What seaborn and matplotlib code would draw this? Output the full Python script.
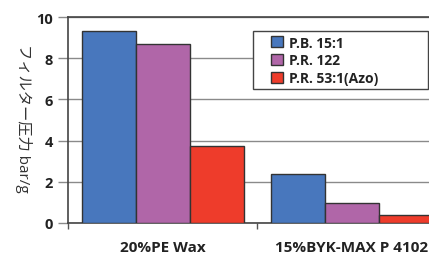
import pandas as pd
import seaborn as sns
import matplotlib.pyplot as plt
from matplotlib.patches import Rectangle

categories = ["20%PE Wax", "15%BYK-MAX P 4102"]
series = ["P.B. 15:1", "P.R. 122", "P.R. 53:1(Azo)"]
pb15 = [9.3, 2.37]
pr122 = [8.7, 0.97]
pr53 = [3.75, 0.38]
colors = ["#4877bd", "#b066a8", "#ee3c2b"]

data = pd.DataFrame({
    "category": categories * 3,
    "pigment": [s for s in series for _ in categories],
    "value": pb15 + pr122 + pr53,
})

sns.set_theme(style="ticks")
plt.rcParams['font.family'] = ['Open Sans', 'Noto Sans CJK JP', 'DejaVu Sans']

fig = plt.figure(figsize=(4.29, 2.55), dpi=100)
ax = fig.add_axes([68 / 429, 1 - 224 / 255, 1 - 68 / 429, (224 - 18) / 255])

sns.barplot(data=data, x="category", y="value", hue="pigment",
            palette=colors, width=0.857, ax=ax, saturation=1,
            edgecolor="#333333", linewidth=1, zorder=3)

ax.set_ylim(0, 10)
ax.set_xlim(-0.5, 1.407)
ax.set_yticks([0, 2, 4, 6, 8, 10])
ax.yaxis.grid(True, color="#8a8a8a", linewidth=1)
ax.set_axisbelow(True)

ax.tick_params(axis="y", length=7, width=1, color="#8a8a8a", pad=4,
               labelsize=10.5, labelcolor="#222222")
ax.set_xticks([0, 1])
ax.set_xticklabels(categories, fontweight="bold", fontsize=11, color="#222222")
ax.set_xticks([-0.5, 0.5], minor=True)
ax.tick_params(axis="x", which="major", length=0, pad=12)
ax.tick_params(axis="x", which="minor", length=4, width=1, color="#555555")
for lbl in ax.get_yticklabels():
    lbl.set_fontweight("bold")

for side in ["left", "top", "bottom"]:
    ax.spines[side].set_color("#444444")
    ax.spines[side].set_linewidth(1.2)
ax.spines["right"].set_visible(False)

ax.set_xlabel("")
ax.set_ylabel("フィルター圧力 bar/g", rotation=270, fontsize=11, color="#333333",
              va="center", ha="center")
ax.yaxis.set_label_coords(-0.122, 0.515)

# legend box drawn by hand so it can be wider than its entries
box = Rectangle((0.512, 0.65), 0.485, 0.282, transform=ax.transAxes,
                facecolor="white", edgecolor="#444444", linewidth=1,
                zorder=4, clip_on=False)
ax.add_patch(box)

leg = ax.legend(loc="upper left", bbox_to_anchor=(0.562, 0.91), frameon=False,
                fontsize=10, handlelength=0.85, handleheight=0.85,
                handletextpad=0.45, borderpad=0, labelspacing=0.27,
                borderaxespad=0)
for t in leg.get_texts():
    t.set_fontweight("bold")
    t.set_color("#222222")
for h in leg.legend_handles:
    h.set_edgecolor("#333333")
leg.set_zorder(5)

plt.savefig("out.png", dpi=100)
